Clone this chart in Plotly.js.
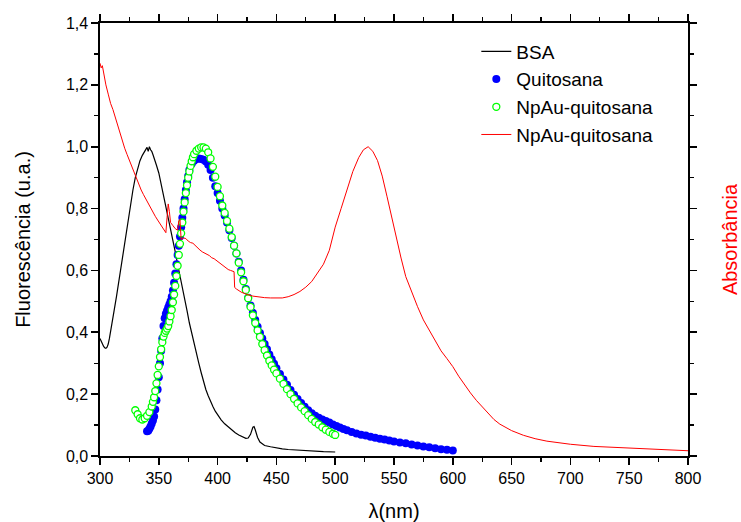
<!DOCTYPE html>
<html>
<head>
<meta charset="utf-8">
<script src="https://cdn.plot.ly/plotly-3.0.1.min.js"></script>
<style>html,body{margin:0;padding:0;background:#fff;}#chart{width:741px;height:522px;}</style>
</head>
<body>
<div id="chart"></div>
<script>
// BSA fluorescence
const bsaX = [300,301,302,303,304,305,306,307,308,309,310,312,314,316,318,320,322,324,326,328,330,332,334,336,338,339,340,341,342,343,344,345,346,347,348,350,352,354,356,358,360,362,364,366,368,370,372,374,376,378,380,382,384,386,388,390,392,394,396,398,400,403,406,409,412,415,418,421,424,426,428,430,431,432,434,436,438,440,445,450,455,460,470,480,490,500];
const bsaY = [0.38,0.37,0.365,0.355,0.35,0.348,0.352,0.362,0.38,0.40,0.425,0.47,0.515,0.565,0.615,0.66,0.72,0.765,0.81,0.86,0.9,0.93,0.955,0.972,0.985,0.99,0.998,0.985,1.0,0.99,0.985,0.975,0.965,0.955,0.94,0.915,0.88,0.84,0.805,0.77,0.73,0.695,0.66,0.62,0.585,0.55,0.51,0.47,0.43,0.395,0.36,0.33,0.3,0.27,0.24,0.215,0.195,0.175,0.16,0.145,0.132,0.117,0.104,0.094,0.085,0.075,0.068,0.062,0.057,0.058,0.07,0.093,0.095,0.085,0.06,0.045,0.038,0.034,0.03,0.026,0.023,0.021,0.018,0.016,0.014,0.013];

// Quitosana fluorescence
const quitX = [340,341,342,343,344,345,346,347,348,349,350,351,352,353,354,355,356,357,358,359,360,361,362,363,364,365,366,367,368,369,370,371,372,373,374,375,376,378,380,382,384,386,388,390,392,394,396,398,400,402,404,406,408,410,412,414,416,418,420,422,424,426,428,430,432,434,436,438,440,442,444,446,448,450,453,456,459,462,465,468,471,474,477,480,483,486,489,492,495,498,501,504,507,510,514,518,522,526,530,534,538,542,546,550,555,560,565,570,575,580,585,590,595,600];
const quitY = [0.08,0.082,0.088,0.095,0.105,0.115,0.128,0.15,0.18,0.215,0.255,0.3,0.34,0.38,0.42,0.445,0.46,0.47,0.48,0.49,0.5,0.515,0.535,0.56,0.59,0.62,0.65,0.68,0.71,0.74,0.77,0.8,0.83,0.86,0.885,0.905,0.925,0.945,0.955,0.96,0.962,0.96,0.958,0.952,0.942,0.925,0.9,0.872,0.85,0.825,0.8,0.778,0.755,0.73,0.705,0.68,0.655,0.628,0.6,0.57,0.54,0.512,0.487,0.463,0.44,0.418,0.398,0.38,0.362,0.345,0.328,0.313,0.298,0.284,0.265,0.247,0.23,0.213,0.198,0.184,0.171,0.159,0.148,0.138,0.13,0.124,0.118,0.113,0.108,0.102,0.097,0.092,0.087,0.083,0.078,0.073,0.069,0.066,0.062,0.059,0.056,0.053,0.05,0.047,0.044,0.041,0.037,0.034,0.031,0.028,0.025,0.022,0.02,0.018];

// NpAu-quitosana fluorescence
const npFluoX = [330,332,334,336,338,340,342,344,345,346,347,348,349,350,351,352,353,354,355,356,357,358,359,360,361,362,363,364,365,366,367,368,369,370,371,372,373,374,375,376,377,378,379,380,382,384,386,388,390,392,394,396,398,400,402,404,406,408,410,412,414,416,418,420,422,424,426,428,430,432,434,436,438,440,442,444,446,448,450,453,456,459,462,465,468,471,474,477,480,483,486,489,492,495,498,500];
const npFluoY = [0.148,0.135,0.122,0.118,0.122,0.13,0.142,0.16,0.175,0.19,0.21,0.235,0.262,0.29,0.32,0.345,0.368,0.386,0.398,0.405,0.412,0.42,0.435,0.452,0.472,0.497,0.522,0.55,0.582,0.615,0.65,0.686,0.72,0.755,0.79,0.82,0.85,0.875,0.9,0.92,0.938,0.953,0.966,0.976,0.987,0.994,0.998,0.998,0.994,0.982,0.962,0.935,0.903,0.87,0.84,0.81,0.786,0.76,0.735,0.708,0.68,0.655,0.625,0.594,0.565,0.537,0.51,0.482,0.455,0.43,0.406,0.385,0.362,0.342,0.325,0.308,0.293,0.279,0.267,0.25,0.233,0.216,0.2,0.185,0.17,0.157,0.145,0.132,0.12,0.11,0.102,0.093,0.085,0.078,0.072,0.068];

// NpAu-quitosana absorbance
const absX = [300,301,302,303,304,305,307,309,311,313,315,317,319,321,323,325,327,329,331,333,335,337,339,341,343,345,347,349,351,353,355,356,357,358,359,360,362,364,366,367,368,369,371,373,375,377,379,381,383,385,387,389,391,393,395,397,399,401,403,405,407,409,411,413,414,414.5,416,420,425,430,435,440,445,450,455,460,465,470,475,480,485,490,495,500,505,510,515,520,524,528,532,536,540,544,548,552,556,560,565,570,575,580,585,590,595,600,605,610,615,620,625,630,635,640,645,650,660,670,680,690,700,720,740,760,780,800];
const absY = [1.27,1.255,1.262,1.24,1.22,1.2,1.17,1.14,1.12,1.095,1.065,1.043,1.02,0.995,0.975,0.955,0.935,0.915,0.895,0.875,0.86,0.845,0.83,0.815,0.8,0.787,0.775,0.763,0.752,0.74,0.727,0.722,0.77,0.815,0.79,0.755,0.745,0.735,0.73,0.76,0.765,0.7,0.705,0.703,0.695,0.69,0.688,0.68,0.672,0.666,0.66,0.657,0.652,0.648,0.641,0.638,0.632,0.625,0.62,0.613,0.608,0.603,0.6,0.597,0.596,0.545,0.54,0.53,0.522,0.517,0.514,0.512,0.511,0.51,0.511,0.515,0.522,0.532,0.546,0.564,0.59,0.62,0.665,0.74,0.8,0.86,0.92,0.965,0.99,1.0,0.985,0.955,0.905,0.84,0.77,0.7,0.64,0.58,0.53,0.483,0.44,0.405,0.37,0.34,0.315,0.289,0.258,0.23,0.204,0.18,0.16,0.14,0.118,0.103,0.092,0.082,0.067,0.056,0.048,0.043,0.038,0.031,0.027,0.024,0.02,0.017];

const FONT = '"Liberation Sans", Arial, sans-serif';

const traces = [
  {x: bsaX, y: bsaY, name: 'BSA', type: 'scatter', mode: 'lines',
   line: {color: '#000000', width: 1.2}},
  {x: quitX, y: quitY, name: 'Quitosana', type: 'scatter', mode: 'markers',
   marker: {color: '#0000FF', size: 8, symbol: 'circle', line: {width: 0}}},
  {x: npFluoX, y: npFluoY, name: 'NpAu-quitosana', type: 'scatter', mode: 'markers',
   marker: {color: '#FFFFFF', size: 7, symbol: 'circle', line: {color: '#00FF00', width: 1.3}}},
  {x: absX, y: absY, name: 'NpAu-quitosana', type: 'scatter', mode: 'lines', yaxis: 'y2',
   line: {color: '#FF0000', width: 1}}
];

const layout = {
  width: 741, height: 522,
  margin: {l: 100, r: 53, t: 23, b: 66},
  paper_bgcolor: '#ffffff', plot_bgcolor: '#ffffff',
  separators: ', ',
  font: {family: FONT, color: '#000000', size: 16},
  showlegend: true,
  legend: {x: 0.64, y: 0.978, xanchor: 'left', yanchor: 'top',
           bgcolor: 'rgba(0,0,0,0)', font: {family: FONT, size: 19}, tracegroupgap: 0},
  xaxis: {
    range: [300, 800], tick0: 300, dtick: 50, showgrid: false, zeroline: false,
    showline: true, linecolor: '#000', linewidth: 1.6, mirror: 'ticks',
    ticks: 'outside', ticklen: 7, tickwidth: 1.6, tickcolor: '#000',
    minor: {dtick: 25, ticks: 'outside', ticklen: 4, tickwidth: 1.3, tickcolor: '#000'},
    tickfont: {family: FONT, size: 16},
    title: {text: 'λ(nm)', font: {family: FONT, size: 20}, standoff: 18}
  },
  yaxis: {
    range: [0, 1.4], tick0: 0, dtick: 0.2, tickformat: '.1f', showgrid: false, zeroline: false,
    showline: true, linecolor: '#000', linewidth: 1.6, mirror: 'ticks',
    ticks: 'outside', ticklen: 7, tickwidth: 1.6, tickcolor: '#000',
    minor: {dtick: 0.1, ticks: 'outside', ticklen: 4, tickwidth: 1.3, tickcolor: '#000'},
    tickfont: {family: FONT, size: 16},
    title: {text: 'Fluorescência (u.a.)', font: {family: FONT, size: 20}, standoff: 30}
  },
  yaxis2: {
    overlaying: 'y', side: 'right', range: [0, 1.4], tick0: 0, dtick: 0.2,
    showgrid: false, zeroline: false, showline: false, showticklabels: false,
    ticks: '',
    title: {text: 'Absorbância', font: {family: FONT, size: 20, color: '#FF0000'}, standoff: 38}
  }
};

Plotly.newPlot('chart', traces, layout, {displayModeBar: false, staticPlot: true});
</script>
</body>
</html>
